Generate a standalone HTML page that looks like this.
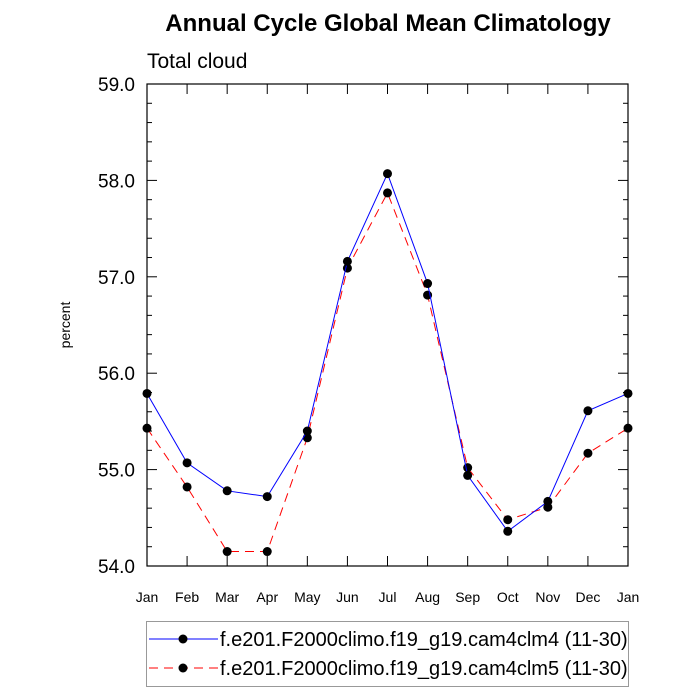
<!DOCTYPE html>
<html><head><meta charset="utf-8"><style>
body{margin:0;background:#fff;}
svg{display:block;font-family:"Liberation Sans",sans-serif;}
</style></head><body>
<svg id="chart" width="700" height="700">
<text x="388" y="31" text-anchor="middle" font-size="24" font-weight="bold">Annual Cycle Global Mean Climatology</text>
<text x="147" y="68" font-size="21">Total cloud</text>
<text transform="translate(70,325) rotate(-90)" text-anchor="middle" font-size="14">percent</text>
<g id="axes"></g>
<g id="series"></g>
<g>
<rect x="146.5" y="621.5" width="482" height="65" fill="none" stroke="#999" stroke-width="1"/>
<line x1="149" y1="639" x2="218" y2="639" stroke="#0000ff" stroke-width="1"/>
<circle cx="183" cy="639" r="4.5" fill="#000"/>
<text x="220" y="646" font-size="20">f.e201.F2000climo.f19_g19.cam4clm4 (11-30)</text>
<line x1="149" y1="668" x2="218" y2="668" stroke="#ff0000" stroke-width="1" stroke-dasharray="9,6"/>
<circle cx="183" cy="668" r="4.5" fill="#000"/>
<text x="220" y="675" font-size="20">f.e201.F2000climo.f19_g19.cam4clm5 (11-30)</text>
</g>
</svg>
<script>
const months=["Jan","Feb","Mar","Apr","May","Jun","Jul","Aug","Sep","Oct","Nov","Dec","Jan"];
const clm4=[55.79,55.07,54.78,54.72,55.40,57.16,58.07,56.93,54.94,54.36,54.67,55.61,55.79];
const clm5=[55.43,54.82,54.15,54.15,55.33,57.09,57.87,56.81,55.02,54.48,54.61,55.17,55.43];
const yTicks=["54.0","55.0","56.0","57.0","58.0","59.0"];
const X0=147,X1=628,Y0=566,Y1=84,YMIN=54,YMAX=59;
const xs=i=>X0+(X1-X0)*i/(months.length-1);
const ys=v=>Y0-(v-YMIN)/(YMAX-YMIN)*(Y0-Y1);
const NS="http://www.w3.org/2000/svg";
function mk(tag,attrs,parent){const e=document.createElementNS(NS,tag);for(const k in attrs)e.setAttribute(k,attrs[k]);parent.appendChild(e);return e;}
const axes=document.getElementById('axes');
const frame=mk('rect',{x:X0,y:Y1,width:X1-X0,height:Y0-Y1,fill:'none',stroke:'#000','stroke-width':1.2},axes);


for(let k=0;k<=25;k++){
  const v=YMIN+k*0.2,y=ys(v),maj=k%5===0,len=maj?10:5;
  mk('line',{x1:X0,y1:y,x2:X0+len,y2:y,stroke:'#000'},axes);
  mk('line',{x1:X1,y1:y,x2:X1-len,y2:y,stroke:'#000'},axes);
}
yTicks.forEach(t=>{
  const e=mk('text',{x:X0-12,y:ys(parseFloat(t))+7,'text-anchor':'end','font-size':19},axes);
  e.textContent=t;
  
  
});
months.forEach((m,i)=>{
  const x=xs(i);
  mk('line',{x1:x,y1:Y0,x2:x,y2:Y0-10,stroke:'#000'},axes);
  mk('line',{x1:x,y1:Y1,x2:x,y2:Y1+10,stroke:'#000'},axes);
  const e=mk('text',{x:x,y:602,'text-anchor':'middle','font-size':14},axes);
  e.textContent=m;
  
  
});
const ser=document.getElementById('series');
function draw(vals,color,dash,name){
  const p=mk('polyline',{points:vals.map((v,i)=>xs(i)+','+ys(v)).join(' '),fill:'none',stroke:color,'stroke-width':1,'stroke-dasharray':dash},ser);
  
  
  vals.forEach((v,i)=>{
    const c=mk('circle',{cx:xs(i),cy:ys(v),r:4.5,fill:'#000'},ser);
    
    
  });
}
draw(clm5,'#ff0000','9,6','clm5');
draw(clm4,'#0000ff','none','clm4');
</script>
</body></html>
